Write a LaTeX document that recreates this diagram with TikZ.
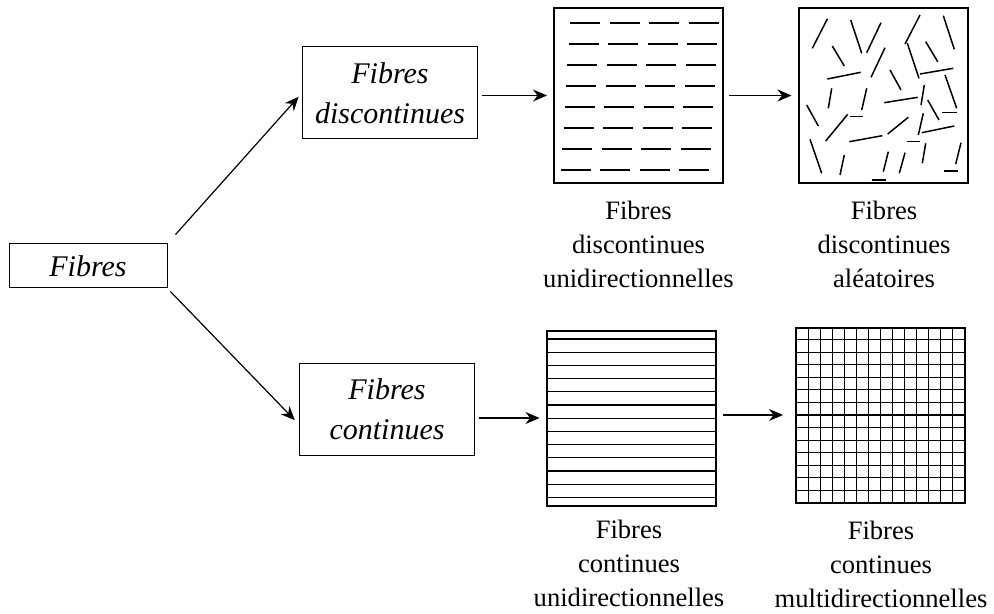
\documentclass[tikz,border=0pt]{standalone}
\usepackage{fontspec}
\setmainfont{Liberation Serif}
\usetikzlibrary{arrows.meta}

\begin{document}
\begin{tikzpicture}[x=0.5pt, y=-0.5pt,
    block/.style={rectangle, draw, line width=0.5pt, text centered, align=center, inner sep=0pt, font=\itshape\fontsize{15}{20}\selectfont},
    sq/.style={rectangle, draw, line width=1pt, inner sep=0pt, minimum width=84.5pt, minimum height=87.5pt},
    caption/.style={align=center, inner sep=0pt, font=\fontsize{13.3}{17}\selectfont},
    line/.style={draw, line width=0.6pt, -{Stealth[length=7pt, width=6pt]}},
    fib/.style={line width=0.75pt},
    mesh/.style={line width=0.55pt}
    ]
    \useasboundingbox (0,0) rectangle (994,614);

    \node [block, minimum width=79pt, minimum height=22pt] (f) at (88, 266) {Fibres};
    \node [block, minimum width=87.5pt, minimum height=46pt] (fd) at (390, 93) {Fibres\\discontinues};
    \node [block, minimum width=87.5pt, minimum height=46pt] (fc) at (387, 409) {Fibres\\continues};

    \path [line, shorten <=6pt, shorten >=2.5pt] (f.north east) -- (fd.west);
    \path [line, shorten <=2pt, shorten >=3pt] (f.south east) -- (fc.190);

    % discontinuous, aligned
    \node [sq] (s1) at (638.5, 95.5) {};
    \foreach \r in {0,...,7}
      \foreach \c in {0,...,3}
        \draw [fib] ({570 + 39.5*\c - 1.3*\r}, {23 + 21*\r}) -- ++(30, 0);
    \node [caption] (l1) at (638.5, 244) {Fibres\\discontinues\\unidirectionnelles};

    % discontinuous, random
    \node [sq] (s2) at (883, 95.5) {};
    \foreach \xa/\ya/\xb/\yb in {
        812.3/48.3/827.3/19, 850.7/20/861.7/53.3, 866.7/52.7/881/22.7,
        905/44/920/15, 943.3/15.7/954.3/49.3, 832.3/46/844.3/66,
        871/77.3/885/47.7, 907.3/43.3/919/78.3, 925.7/41.7/937.7/61.7,
        827.3/79/860.7/72.3, 920/74/953.3/68.3, 890/70/901/90,
        945/75/956.7/108.3, 831.7/88.3/828.3/108.3, 866.7/88.3/861.7/110,
        884.3/102.7/917.7/97.3, 924.3/85/921/105, 927.7/100/939/120,
        806.7/105/818.3/126, 825.7/141/847.7/114.3, 850/116.7/863.3/116.7,
        942.3/112.7/956.7/112.7, 923.3/113.3/918.3/135, 887.7/134/908.3/117.3,
        921.7/132.7/954.3/126, 849.3/141.7/882.3/135.7, 906.7/141.7/920/141.7,
        810/139.3/821.7/173.3, 844.3/155/840/175, 888.3/151.7/883.3/171.7,
        905/152.7/899.3/173.3, 925.7/143.3/922.3/163.3, 961/142.7/955.7/164,
        944.3/171/958.3/171, 871.7/180/885.7/180}
      \draw [fib] (\xa, \ya) -- (\xb, \yb);
    \node [caption] (l2) at (884, 244) {Fibres\\discontinues\\aléatoires};

    % continuous, aligned
    \node [sq] (s3) at (631, 418) {};
    \foreach \r in {0,...,12}
      \draw [mesh] (547, {339 + 13.2*\r}) -- (715, {339 + 13.2*\r});
    \node [caption] (l3) at (629, 563) {Fibres\\continues\\unidirectionnelles};

    % continuous, crossed
    \node [sq] (s4) at (880.5, 415) {};
    \foreach \k in {1,...,13} {
      \draw [mesh] ({796 + 12.07*\k}, 327) -- ({796 + 12.07*\k}, 503);
      \draw [mesh] (796, {327 + 12.57*\k}) -- (965, {327 + 12.57*\k});
    }
    \node [caption] (l4) at (881, 564) {Fibres\\continues\\multidirectionnelles};

    \path [line, shorten <=2pt, shorten >=3pt] (fd.east |- s1) -- (s1);
    \path [line, shorten <=2.5pt, shorten >=3pt] (s1) -- (s2);
    \path [line, shorten <=2pt, shorten >=3pt] (fc.east |- s3) -- (s3);
    \path [line, shorten <=3pt, shorten >=6pt] (s3.east |- s4) -- (s4);
  \end{tikzpicture}
\end{document}
